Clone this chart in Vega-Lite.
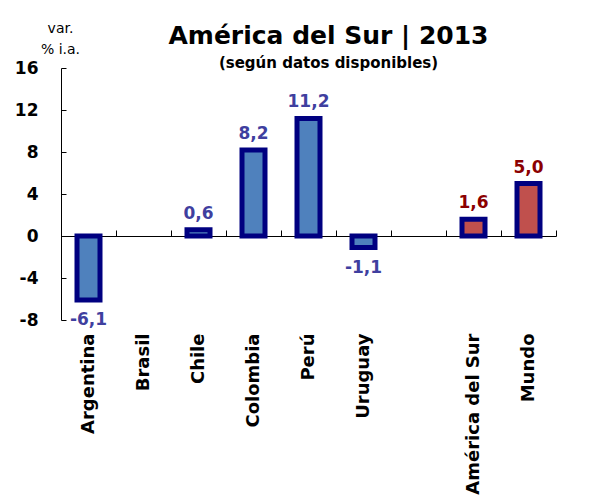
{
  "$schema": "https://vega.github.io/schema/vega-lite/v6.json",
  "width": 495,
  "height": 252,
  "autosize": {"type": "none"},
  "padding": {"left": 61, "top": 68, "right": 45, "bottom": 178},
  "background": "white",
  "config": {
    "view": {"stroke": null},
    "font": "DejaVu Sans",
    "locale": {"number": {"decimal": ",", "thousands": ".", "grouping": [3], "currency": ["", "€"], "minus": "-"}}
  },
  "title": {
    "text": "América del Sur | 2013",
    "subtitle": "(según datos disponibles)",
    "anchor": "middle",
    "frame": "group",
    "dx": 20,
    "font": "DejaVu Sans",
    "fontSize": 25,
    "fontWeight": "bold",
    "color": "black",
    "subtitleFont": "DejaVu Sans",
    "subtitleFontSize": 15,
    "subtitleFontWeight": "bold",
    "subtitleColor": "black",
    "subtitlePadding": 7,
    "offset": -50
  },
  "data": {
    "values": [
      {"pais": "Argentina", "valor": -6.1, "grupo": "país"},
      {"pais": "Brasil", "valor": null, "grupo": "país"},
      {"pais": "Chile", "valor": 0.6, "grupo": "país"},
      {"pais": "Colombia", "valor": 8.2, "grupo": "país"},
      {"pais": "Perú", "valor": 11.2, "grupo": "país"},
      {"pais": "Uruguay", "valor": -1.1, "grupo": "país"},
      {"pais": "América del Sur", "valor": 1.6, "grupo": "agregado"},
      {"pais": "Mundo", "valor": 5.0, "grupo": "agregado"}
    ]
  },
  "encoding": {
    "x": {
      "field": "pais",
      "type": "nominal",
      "scale": {
        "domain": ["Argentina", "Brasil", "Chile", "Colombia", "Perú", "Uruguay", " ", "América del Sur", "Mundo"],
        "paddingInner": 0,
        "paddingOuter": 0
      },
      "axis": {
        "title": null,
        "offset": -84,
        "domainColor": "black",
        "domainWidth": 1,
        "tickColor": "black",
        "tickSize": -6,
        "tickBand": "extent",
        "labelAngle": 270,
        "labelFont": "DejaVu Sans",
        "labelFontSize": 18,
        "labelFontWeight": "bold",
        "labelColor": "black",
        "labelPadding": 103,
        "labelOverlap": false
      }
    },
    "y": {
      "field": "valor",
      "type": "quantitative",
      "scale": {"domain": [-8, 16], "nice": false},
      "axis": {
        "values": [-8, -4, 0, 4, 8, 12, 16],
        "grid": false,
        "domainColor": "black",
        "domainWidth": 1,
        "tickColor": "black",
        "tickSize": -5,
        "labelFont": "DejaVu Sans",
        "labelFontSize": 17,
        "labelFontWeight": "bold",
        "labelColor": "black",
        "labelPadding": 28,
        "title": ["var.", "% i.a."],
        "titleAngle": 0,
        "titleAlign": "center",
        "titleBaseline": "alphabetic",
        "titleX": -1,
        "titleY": -36,
        "titleFont": "DejaVu Sans",
        "titleFontSize": 14,
        "titleFontWeight": "normal",
        "titleColor": "black",
        "titleLineHeight": 21
      }
    }
  },
  "layer": [
    {
      "mark": {"type": "bar", "width": 23, "stroke": "#000080", "strokeWidth": 5},
      "encoding": {
        "color": {
          "field": "grupo",
          "type": "nominal",
          "scale": {"domain": ["país", "agregado"], "range": ["#4F81BD", "#C0504D"]},
          "legend": null
        }
      }
    },
    {
      "transform": [{"filter": "isValid(datum.valor) && datum.valor >= 0"}],
      "mark": {"type": "text", "baseline": "alphabetic", "dy": -11, "fontSize": 17, "fontWeight": "bold", "font": "DejaVu Sans"},
      "encoding": {
        "text": {"field": "valor", "type": "quantitative", "format": ".1f"},
        "color": {
          "field": "grupo",
          "type": "nominal",
          "scale": {"domain": ["país", "agregado"], "range": ["#3F3F9F", "#8B0000"]},
          "legend": null
        }
      }
    },
    {
      "transform": [{"filter": "isValid(datum.valor) && datum.valor < 0"}],
      "mark": {"type": "text", "baseline": "top", "dy": 12, "fontSize": 17, "fontWeight": "bold", "font": "DejaVu Sans"},
      "encoding": {
        "text": {"field": "valor", "type": "quantitative", "format": ".1f"},
        "color": {
          "field": "grupo",
          "type": "nominal",
          "scale": {"domain": ["país", "agregado"], "range": ["#3F3F9F", "#8B0000"]},
          "legend": null
        }
      }
    }
  ],
  "resolve": {"scale": {"color": "independent"}}
}
